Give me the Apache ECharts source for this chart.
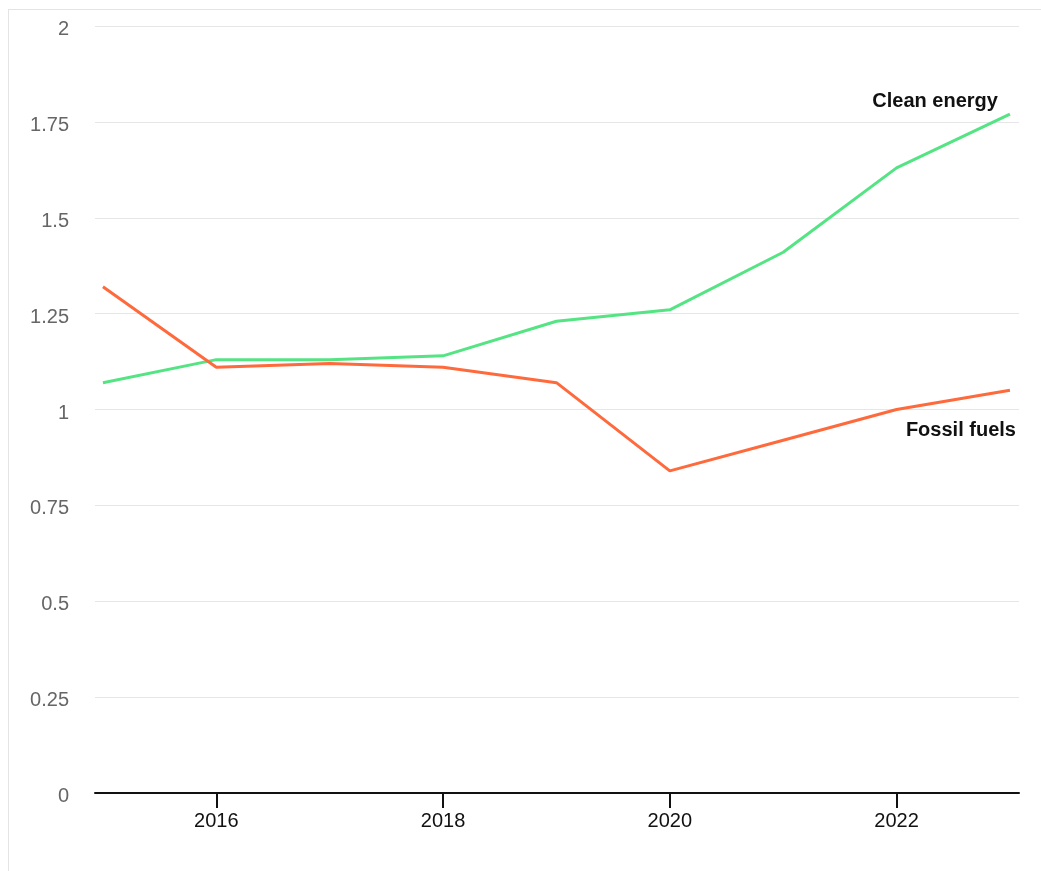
<!DOCTYPE html>
<html>
<head>
<meta charset="utf-8">
<script src="https://cdn.jsdelivr.net/npm/echarts@6/dist/echarts.min.js"></script>
<style>
  html, body { margin: 0; padding: 0; background: #fff; }
  #frame { position: absolute; left: 8px; top: 9px; width: 1040px; height: 870px;
           border: 1px solid #e4e4e4; box-sizing: border-box; }
  #chart { position: absolute; left: 0; top: 0; width: 1041px; height: 871px; }
</style>
</head>
<body>
<div id="frame"></div>
<div id="chart"></div>
<script>
// Investment ratio by year
const years = [2015, 2016, 2017, 2018, 2019, 2020, 2021, 2022, 2023];
const cleanEnergy = [1.07, 1.13, 1.13, 1.14, 1.23, 1.26, 1.41, 1.63, 1.77];
const fossilFuels = [1.32, 1.11, 1.12, 1.11, 1.07, 0.84, 0.92, 1.00, 1.05];
const xTickYears = [2016, 2018, 2020, 2022];

const FONT = 'Liberation Sans, Arial, sans-serif';

// Series name is printed next to the last point of each line
function toPairs(values, name) {
  return years.map((y, i) => {
    const item = { value: [y, values[i]] };
    if (i === years.length - 1) {
      item.label = name === 'Clean energy'
        ? { show: true, formatter: name, position: 'top', align: 'right', offset: [-12, 2] }
        : { show: true, formatter: name, position: 'bottom', align: 'right', offset: [6, 25] };
    }
    return item;
  });
}

const chart = echarts.init(document.getElementById('chart'), null, { renderer: 'canvas' });
chart.setOption({
  animation: false,
  backgroundColor: 'transparent',
  grid: { left: 95, right: 22, top: 26, bottom: 78, containLabel: false },
  xAxis: {
    type: 'value',
    min: 2014.93,
    max: 2023.08,
    splitLine: { show: false },
    axisLine: { show: true, lineStyle: { color: '#111', width: 2 } },
    axisTick: { show: true, customValues: xTickYears, length: 15, lineStyle: { color: '#111', width: 2 } },
    axisLabel: {
      customValues: xTickYears,
      color: '#111', fontFamily: FONT, fontSize: 20, margin: 18,
      formatter: v => String(v)
    }
  },
  yAxis: {
    type: 'value',
    min: 0,
    max: 2,
    interval: 0.25,
    axisLine: { show: false },
    axisTick: { show: false },
    splitLine: { lineStyle: { color: '#e6e6e6', width: 1 } },
    axisLabel: {
      color: '#666', fontFamily: FONT, fontSize: 20, margin: 26,
      verticalAlign: 'top', lineHeight: 7,
      formatter: v => String(v)
    }
  },
  series: [
    {
      name: 'Clean energy',
      type: 'line',
      data: toPairs(cleanEnergy, 'Clean energy'),
      symbol: 'circle',
      symbolSize: 0,
      lineStyle: { color: '#55e483', width: 3 },
      itemStyle: { color: '#55e483' },
      label: { fontFamily: FONT, fontSize: 20, fontWeight: 'bold', color: '#111' }
    },
    {
      name: 'Fossil fuels',
      type: 'line',
      data: toPairs(fossilFuels, 'Fossil fuels'),
      symbol: 'circle',
      symbolSize: 0,
      lineStyle: { color: '#ff6a3d', width: 3 },
      itemStyle: { color: '#ff6a3d' },
      label: { fontFamily: FONT, fontSize: 20, fontWeight: 'bold', color: '#111' }
    }
  ]
});
</script>
</body>
</html>
